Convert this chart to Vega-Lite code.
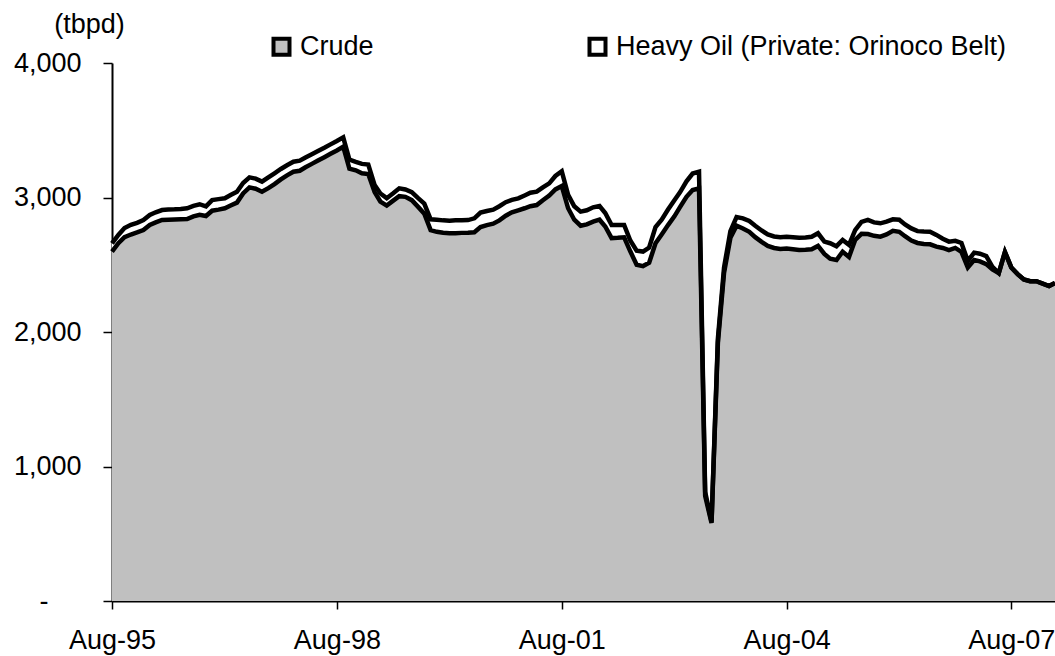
{
  "$schema": "https://vega.github.io/schema/vega-lite/v6.json",
  "width": 943,
  "height": 538,
  "autosize": {"type": "none"},
  "padding": {"left": 112, "top": 63, "right": 0, "bottom": 55},
  "background": "white",
  "config": {
    "view": {"stroke": null},
    "font": "Liberation Sans",
    "axis": {"domainColor": "black", "domainWidth": 2, "tickColor": "black", "tickWidth": 1.5, "labelFont": "Liberation Sans", "labelFontSize": 27, "labelColor": "black", "grid": false, "labelFlush": false, "labelOverlap": false, "titleFont": "Liberation Sans", "titleFontSize": 27, "titleFontWeight": "normal", "titleColor": "black"}
  },
  "data": {"values": [
    {"date": "1995-08-01", "crude": 2597, "heavy": 62},
    {"date": "1995-09-01", "crude": 2660, "heavy": 62},
    {"date": "1995-10-01", "crude": 2705, "heavy": 68},
    {"date": "1995-11-01", "crude": 2725, "heavy": 72},
    {"date": "1995-12-01", "crude": 2740, "heavy": 72},
    {"date": "1996-01-01", "crude": 2758, "heavy": 75},
    {"date": "1996-02-01", "crude": 2796, "heavy": 74},
    {"date": "1996-03-01", "crude": 2815, "heavy": 75},
    {"date": "1996-04-01", "crude": 2833, "heavy": 74},
    {"date": "1996-05-01", "crude": 2835, "heavy": 75},
    {"date": "1996-06-01", "crude": 2837, "heavy": 75},
    {"date": "1996-07-01", "crude": 2838, "heavy": 77},
    {"date": "1996-08-01", "crude": 2840, "heavy": 80},
    {"date": "1996-09-01", "crude": 2860, "heavy": 78},
    {"date": "1996-10-01", "crude": 2872, "heavy": 78},
    {"date": "1996-11-01", "crude": 2862, "heavy": 72},
    {"date": "1996-12-01", "crude": 2902, "heavy": 79},
    {"date": "1997-01-01", "crude": 2910, "heavy": 78},
    {"date": "1997-02-01", "crude": 2920, "heavy": 74},
    {"date": "1997-03-01", "crude": 2940, "heavy": 78},
    {"date": "1997-04-01", "crude": 2962, "heavy": 81},
    {"date": "1997-05-01", "crude": 3030, "heavy": 78},
    {"date": "1997-06-01", "crude": 3075, "heavy": 75},
    {"date": "1997-07-01", "crude": 3065, "heavy": 75},
    {"date": "1997-08-01", "crude": 3043, "heavy": 75},
    {"date": "1997-09-01", "crude": 3070, "heavy": 80},
    {"date": "1997-10-01", "crude": 3100, "heavy": 80},
    {"date": "1997-11-01", "crude": 3135, "heavy": 77},
    {"date": "1997-12-01", "crude": 3165, "heavy": 75},
    {"date": "1998-01-01", "crude": 3192, "heavy": 74},
    {"date": "1998-02-01", "crude": 3199, "heavy": 75},
    {"date": "1998-03-01", "crude": 3225, "heavy": 73},
    {"date": "1998-04-01", "crude": 3250, "heavy": 72},
    {"date": "1998-05-01", "crude": 3275, "heavy": 71},
    {"date": "1998-06-01", "crude": 3300, "heavy": 70},
    {"date": "1998-07-01", "crude": 3325, "heavy": 70},
    {"date": "1998-08-01", "crude": 3350, "heavy": 70},
    {"date": "1998-09-01", "crude": 3378, "heavy": 69},
    {"date": "1998-10-01", "crude": 3215, "heavy": 67},
    {"date": "1998-11-01", "crude": 3202, "heavy": 63},
    {"date": "1998-12-01", "crude": 3180, "heavy": 70},
    {"date": "1999-01-01", "crude": 3175, "heavy": 70},
    {"date": "1999-02-01", "crude": 3040, "heavy": 52},
    {"date": "1999-03-01", "crude": 2970, "heavy": 60},
    {"date": "1999-04-01", "crude": 2940, "heavy": 55},
    {"date": "1999-05-01", "crude": 2975, "heavy": 55},
    {"date": "1999-06-01", "crude": 3010, "heavy": 58},
    {"date": "1999-07-01", "crude": 3005, "heavy": 55},
    {"date": "1999-08-01", "crude": 2980, "heavy": 60},
    {"date": "1999-09-01", "crude": 2930, "heavy": 65},
    {"date": "1999-10-01", "crude": 2880, "heavy": 75},
    {"date": "1999-11-01", "crude": 2758, "heavy": 80},
    {"date": "1999-12-01", "crude": 2745, "heavy": 90},
    {"date": "2000-01-01", "crude": 2738, "heavy": 92},
    {"date": "2000-02-01", "crude": 2734, "heavy": 94},
    {"date": "2000-03-01", "crude": 2735, "heavy": 95},
    {"date": "2000-04-01", "crude": 2737, "heavy": 94},
    {"date": "2000-05-01", "crude": 2738, "heavy": 94},
    {"date": "2000-06-01", "crude": 2742, "heavy": 103},
    {"date": "2000-07-01", "crude": 2780, "heavy": 108},
    {"date": "2000-08-01", "crude": 2795, "heavy": 105},
    {"date": "2000-09-01", "crude": 2805, "heavy": 105},
    {"date": "2000-10-01", "crude": 2830, "heavy": 105},
    {"date": "2000-11-01", "crude": 2865, "heavy": 100},
    {"date": "2000-12-01", "crude": 2890, "heavy": 92},
    {"date": "2001-01-01", "crude": 2905, "heavy": 89},
    {"date": "2001-02-01", "crude": 2920, "heavy": 95},
    {"date": "2001-03-01", "crude": 2935, "heavy": 100},
    {"date": "2001-04-01", "crude": 2944, "heavy": 99},
    {"date": "2001-05-01", "crude": 2980, "heavy": 95},
    {"date": "2001-06-01", "crude": 3015, "heavy": 90},
    {"date": "2001-07-01", "crude": 3060, "heavy": 100},
    {"date": "2001-08-01", "crude": 3085, "heavy": 110},
    {"date": "2001-09-01", "crude": 2920, "heavy": 100},
    {"date": "2001-10-01", "crude": 2835, "heavy": 100},
    {"date": "2001-11-01", "crude": 2790, "heavy": 105},
    {"date": "2001-12-01", "crude": 2800, "heavy": 105},
    {"date": "2002-01-01", "crude": 2820, "heavy": 107},
    {"date": "2002-02-01", "crude": 2835, "heavy": 102},
    {"date": "2002-03-01", "crude": 2785, "heavy": 100},
    {"date": "2002-04-01", "crude": 2698, "heavy": 98},
    {"date": "2002-05-01", "crude": 2700, "heavy": 96},
    {"date": "2002-06-01", "crude": 2704, "heavy": 92},
    {"date": "2002-07-01", "crude": 2600, "heavy": 80},
    {"date": "2002-08-01", "crude": 2500, "heavy": 105},
    {"date": "2002-09-01", "crude": 2490, "heavy": 108},
    {"date": "2002-10-01", "crude": 2515, "heavy": 113},
    {"date": "2002-11-01", "crude": 2660, "heavy": 120},
    {"date": "2002-12-01", "crude": 2725, "heavy": 110},
    {"date": "2003-01-01", "crude": 2795, "heavy": 115},
    {"date": "2003-02-01", "crude": 2860, "heavy": 120},
    {"date": "2003-03-01", "crude": 2930, "heavy": 110},
    {"date": "2003-04-01", "crude": 3005, "heavy": 115},
    {"date": "2003-05-01", "crude": 3055, "heavy": 123},
    {"date": "2003-06-01", "crude": 3068, "heavy": 124},
    {"date": "2003-07-01", "crude": 780, "heavy": 30},
    {"date": "2003-08-01", "crude": 580, "heavy": 10},
    {"date": "2003-09-01", "crude": 1920, "heavy": 30},
    {"date": "2003-10-01", "crude": 2440, "heavy": 40},
    {"date": "2003-11-01", "crude": 2700, "heavy": 50},
    {"date": "2003-12-01", "crude": 2790, "heavy": 65},
    {"date": "2004-01-01", "crude": 2770, "heavy": 75},
    {"date": "2004-02-01", "crude": 2745, "heavy": 80},
    {"date": "2004-03-01", "crude": 2705, "heavy": 85},
    {"date": "2004-04-01", "crude": 2670, "heavy": 85},
    {"date": "2004-05-01", "crude": 2640, "heavy": 85},
    {"date": "2004-06-01", "crude": 2625, "heavy": 85},
    {"date": "2004-07-01", "crude": 2618, "heavy": 87},
    {"date": "2004-08-01", "crude": 2620, "heavy": 88},
    {"date": "2004-09-01", "crude": 2615, "heavy": 90},
    {"date": "2004-10-01", "crude": 2610, "heavy": 91},
    {"date": "2004-11-01", "crude": 2612, "heavy": 91},
    {"date": "2004-12-01", "crude": 2615, "heavy": 93},
    {"date": "2005-01-01", "crude": 2640, "heavy": 94},
    {"date": "2005-02-01", "crude": 2580, "heavy": 92},
    {"date": "2005-03-01", "crude": 2545, "heavy": 115},
    {"date": "2005-04-01", "crude": 2535, "heavy": 103},
    {"date": "2005-05-01", "crude": 2597, "heavy": 87},
    {"date": "2005-06-01", "crude": 2558, "heavy": 90},
    {"date": "2005-07-01", "crude": 2684, "heavy": 74},
    {"date": "2005-08-01", "crude": 2730, "heavy": 88},
    {"date": "2005-09-01", "crude": 2728, "heavy": 105},
    {"date": "2005-10-01", "crude": 2715, "heavy": 100},
    {"date": "2005-11-01", "crude": 2709, "heavy": 99},
    {"date": "2005-12-01", "crude": 2725, "heavy": 95},
    {"date": "2006-01-01", "crude": 2752, "heavy": 86},
    {"date": "2006-02-01", "crude": 2745, "heavy": 90},
    {"date": "2006-03-01", "crude": 2712, "heavy": 88},
    {"date": "2006-04-01", "crude": 2680, "heavy": 90},
    {"date": "2006-05-01", "crude": 2662, "heavy": 88},
    {"date": "2006-06-01", "crude": 2655, "heavy": 92},
    {"date": "2006-07-01", "crude": 2652, "heavy": 94},
    {"date": "2006-08-01", "crude": 2635, "heavy": 87},
    {"date": "2006-09-01", "crude": 2625, "heavy": 69},
    {"date": "2006-10-01", "crude": 2608, "heavy": 64},
    {"date": "2006-11-01", "crude": 2625, "heavy": 53},
    {"date": "2006-12-01", "crude": 2595, "heavy": 67},
    {"date": "2007-01-01", "crude": 2480, "heavy": 48},
    {"date": "2007-02-01", "crude": 2535, "heavy": 55},
    {"date": "2007-03-01", "crude": 2525, "heavy": 57},
    {"date": "2007-04-01", "crude": 2505, "heavy": 60},
    {"date": "2007-05-01", "crude": 2465, "heavy": 20},
    {"date": "2007-06-01", "crude": 2438, "heavy": 0},
    {"date": "2007-07-01", "crude": 2595, "heavy": 0},
    {"date": "2007-08-01", "crude": 2480, "heavy": 0},
    {"date": "2007-09-01", "crude": 2430, "heavy": 0},
    {"date": "2007-10-01", "crude": 2390, "heavy": 0},
    {"date": "2007-11-01", "crude": 2378, "heavy": 0},
    {"date": "2007-12-01", "crude": 2378, "heavy": 0},
    {"date": "2008-01-01", "crude": 2360, "heavy": 0},
    {"date": "2008-02-01", "crude": 2342, "heavy": 0},
    {"date": "2008-03-01", "crude": 2365, "heavy": 0}
  ]},
  "transform": [{"fold": ["crude", "heavy"], "as": ["series", "value"]}],
  "encoding": {
    "x": {
      "field": "date", "type": "temporal",
      "scale": {"type": "utc", "domain": [{"year": 1995, "month": 8, "date": 1, "utc": true}, {"year": 2008, "month": 3, "date": 1, "utc": true}], "nice": false},
      "axis": {
        "title": null, "format": "%b-%y", "tickSize": 8, "labelPadding": 18,
        "values": [
          {"year": 1995, "month": 8, "date": 1, "utc": true},
          {"year": 1998, "month": 8, "date": 1, "utc": true},
          {"year": 2001, "month": 8, "date": 1, "utc": true},
          {"year": 2004, "month": 8, "date": 1, "utc": true},
          {"year": 2007, "month": 8, "date": 1, "utc": true}
        ]
      }
    },
    "y": {
      "field": "value", "type": "quantitative", "stack": "zero",
      "scale": {"domain": [0, 4000], "nice": false},
      "axis": {
        "title": "(tbpd)", "titleAngle": 0, "titleAlign": "center", "titleBaseline": "alphabetic", "titleX": -23, "titleY": -31,
        "values": [0, 1000, 2000, 3000, 4000], "tickSize": 9,
        "labelPadding": {"condition": {"test": "datum.value == 0", "value": 55}, "value": 22},
        "labelExpr": "datum.value == 0 ? '-' : format(datum.value, ',')"
      }
    },
    "order": {"field": "series", "type": "nominal", "sort": "ascending"}
  },
  "layer": [
    {
      "mark": {"type": "area", "opacity": 1},
      "encoding": {
        "color": {
          "field": "series", "type": "nominal",
          "scale": {"domain": ["crude", "heavy"], "range": ["#C0C0C0", "#FFFFFF"]},
          "legend": {
            "title": null, "orient": "none", "legendX": 156, "legendY": -30, "direction": "horizontal",
            "symbolType": "square", "symbolSize": 256, "symbolStrokeColor": "black", "symbolStrokeWidth": 4, "symbolOpacity": 1,
            "labelFont": "Liberation Sans", "labelFontSize": 27, "labelColor": "black", "labelOffset": 5, "columnPadding": 207, "labelLimit": 600,
            "labelExpr": "datum.label == 'crude' ? 'Crude' : 'Heavy Oil (Private: Orinoco Belt)'"
          }
        }
      }
    },
    {
      "mark": {"type": "line", "color": "black", "strokeWidth": 4.5},
      "encoding": {"detail": {"field": "series", "type": "nominal"}}
    }
  ]
}
